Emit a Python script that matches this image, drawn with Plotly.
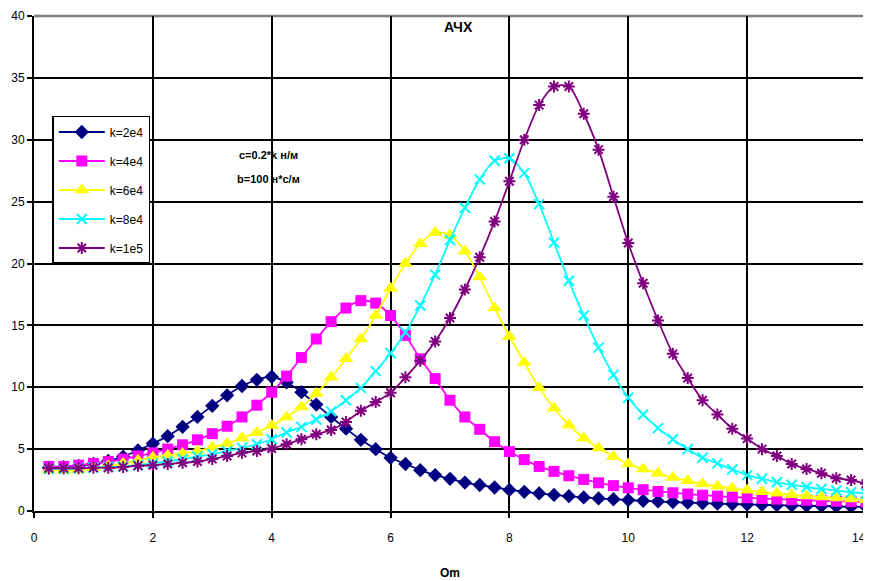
import plotly.graph_objects as go

om = [0.25, 0.5, 0.75, 1.0, 1.25, 1.5, 1.75, 2.0, 2.25, 2.5, 2.75, 3.0, 3.25, 3.5, 3.75, 4.0,
      4.25, 4.5, 4.75, 5.0, 5.25, 5.5, 5.75, 6.0, 6.25, 6.5, 6.75, 7.0, 7.25, 7.5, 7.75, 8.0,
      8.25, 8.5, 8.75, 9.0, 9.25, 9.5, 9.75, 10.0, 10.25, 10.5, 10.75, 11.0, 11.25, 11.5, 11.75, 12.0,
      12.25, 12.5, 12.75, 13.0, 13.25, 13.5, 13.75, 14.0]

k2e4 = [3.5, 3.55, 3.65, 3.8, 4.05, 4.4, 4.9, 5.45, 6.05, 6.8, 7.6, 8.5, 9.35, 10.1, 10.6, 10.85,
        10.4, 9.6, 8.6, 7.6, 6.65, 5.75, 5.0, 4.3, 3.8, 3.3, 2.9, 2.6, 2.3, 2.1, 1.9, 1.7,
        1.55, 1.42, 1.3, 1.2, 1.1, 1.02, 0.95, 0.88, 0.82, 0.77, 0.72, 0.67, 0.63, 0.59, 0.56, 0.53,
        0.5, 0.47, 0.44, 0.42, 0.4, 0.37, 0.35, 0.33]

k4e4 = [3.6, 3.6, 3.7, 3.85, 4.0, 4.2, 4.45, 4.7, 5.0, 5.35, 5.75, 6.25, 6.85, 7.6, 8.55, 9.6,
        10.9, 12.4, 13.9, 15.3, 16.4, 17.0, 16.8, 15.8, 14.2, 12.3, 10.7, 8.95, 7.6, 6.6, 5.6, 4.8,
        4.15, 3.6, 3.2, 2.85, 2.55, 2.28, 2.05, 1.87, 1.72, 1.58, 1.47, 1.37, 1.28, 1.2, 1.13, 1.07,
        1.01, 0.96, 0.91, 0.87, 0.83, 0.79, 0.76, 0.72]

k6e4 = [3.3, 3.3, 3.35, 3.5, 3.65, 3.85, 4.1, 4.35, 4.5, 4.65, 4.85, 5.15, 5.45, 5.9, 6.35, 6.9,
        7.6, 8.4, 9.5, 10.8, 12.3, 13.9, 15.8, 18.0, 20.0, 21.6, 22.5, 22.3, 21.0, 18.9, 16.4, 14.1,
        12.0, 9.95, 8.3, 6.95, 5.9, 5.1, 4.4, 3.8, 3.4, 3.05, 2.7, 2.45, 2.2, 2.0, 1.83, 1.68,
        1.55, 1.43, 1.32, 1.22, 1.13, 1.05, 0.97, 0.9]

k8e4 = [3.4, 3.4, 3.45, 3.5, 3.55, 3.6, 3.7, 3.85, 4.0, 4.2, 4.4, 4.6, 4.85, 5.1, 5.4, 5.8,
        6.35, 6.8, 7.4, 8.05, 8.95, 9.95, 11.3, 12.75, 14.45, 16.6, 19.1, 21.9, 24.5, 26.8, 28.3, 28.5,
        27.3, 24.8, 21.7, 18.6, 15.8, 13.2, 11.0, 9.15, 7.8, 6.7, 5.8, 5.0, 4.3, 3.85, 3.35, 2.9,
        2.6, 2.32, 2.12, 1.94, 1.78, 1.65, 1.52, 1.42]

k1e5 = [3.45, 3.45, 3.45, 3.5, 3.5, 3.55, 3.65, 3.7, 3.8, 3.9, 4.0, 4.2, 4.45, 4.7, 4.85, 5.05,
        5.4, 5.8, 6.2, 6.55, 7.2, 8.1, 8.8, 9.55, 10.8, 12.15, 13.7, 15.6, 17.9, 20.5, 23.4, 26.65,
        30.0, 32.8, 34.3, 34.3, 32.1, 29.2, 25.4, 21.65, 18.4, 15.4, 12.7, 10.75, 8.95, 7.8, 6.65, 5.85,
        5.0, 4.45, 3.8, 3.4, 3.05, 2.65, 2.5, 2.2]

names = ["k=2e4", "k=4e4", "k=6e4", "k=8e4", "k=1e5"]
x_ticks = [0, 2, 4, 6, 8, 10, 12, 14]
x_labels = ["0", "2", "4", "6", "8", "10", "12", ""]
last_x_label = "14"
y_ticks = [0, 5, 10, 15, 20, 25, 30, 35, 40]

series = [k2e4, k4e4, k6e4, k8e4, k1e5]
colors = ["#000080", "#FF00FF", "#FFFF00", "#00FFFF", "#800080"]
symbols = ["diamond", "square", "triangle-up", "x-thin-open", "asterisk-open"]
sizes = [11, 11, 13, 10, 10]

FONT = "Liberation Sans, Arial, sans-serif"

fig = go.Figure()
for i, (name, ys) in enumerate(zip(names, series)):
    mk = dict(symbol=symbols[i], size=sizes[i], color=colors[i])
    if "open" in symbols[i]:
        mk["line"] = dict(color=colors[i], width=2)
    else:
        mk["line"] = dict(width=0)
    fig.add_trace(go.Scatter(
        x=om, y=ys, name=name, mode="lines+markers",
        line=dict(color=colors[i], width=1.8, shape="spline", smoothing=0.8),
        marker=mk, legendgroup=name,
    ))

# The page body adds an 8px offset, so the figure is drawn 8px smaller
fig.update_layout(
    width=863, height=573,
    margin=dict(l=26, r=5, t=8, b=70),
    paper_bgcolor="white", plot_bgcolor="white",
    font=dict(family=FONT, size=11, color="black"),
    showlegend=True,
    legend=dict(
        x=0.022, y=0.798, xanchor="left", yanchor="top",
        bgcolor="white", bordercolor="black", borderwidth=1.5,
        font=dict(family=FONT, size=12, color="black"),
        tracegroupgap=10, itemwidth=46,
    ),
    xaxis=dict(
        range=[0, 14], tickvals=x_ticks, ticktext=x_labels,
        showgrid=True, gridcolor="black", gridwidth=2,
        showline=True, linecolor="black", linewidth=2,
        ticks="outside", ticklen=5, tickcolor="black", tickwidth=1.5,
        ticklabelstandoff=10, zeroline=False, automargin=False,
        ticklabeloverflow="allow",
        tickfont=dict(family=FONT, size=12),
    ),
    yaxis=dict(
        range=[0, 40], tickvals=y_ticks, ticktext=[str(v) for v in y_ticks],
        showgrid=True, gridcolor="black", gridwidth=2,
        showline=True, linecolor="black", linewidth=2,
        ticks="outside", ticklen=5, tickcolor="black", tickwidth=1.5,
        zeroline=False, automargin=False, ticklabeloverflow="allow",
        tickfont=dict(family=FONT, size=12),
    ),
    shapes=[
        dict(type="line", xref="paper", yref="paper", x0=0, x1=1, y0=1, y1=1,
             line=dict(color="#808080", width=2.5), layer="between"),
        dict(type="line", xref="paper", yref="paper", x0=1, x1=1, y0=0, y1=1,
             line=dict(color="#808080", width=2.5), layer="between"),
    ],
    annotations=[
        dict(text="<b>АЧХ</b>", xref="paper", yref="paper", x=0.51, y=0.978,
             xanchor="center", yanchor="middle",
             showarrow=False, font=dict(family=FONT, size=14)),
        dict(text="<b>c=0.2*k н/м</b>", xref="paper", yref="paper", x=0.2817, y=0.719,
             xanchor="center", yanchor="middle",
             showarrow=False, font=dict(family=FONT, size=11)),
        dict(text="<b>b=100 н*с/м</b>", xref="paper", yref="paper", x=0.2817, y=0.671,
             xanchor="center", yanchor="middle",
             showarrow=False, font=dict(family=FONT, size=11)),
        dict(text="<b>Om</b>", xref="paper", yref="paper", x=0.5, y=-0.125,
             xanchor="center", yanchor="middle",
             showarrow=False, font=dict(family=FONT, size=12)),
        dict(text=last_x_label, xref="x", yref="paper", x=x_ticks[-1], y=-0.0545,
             xanchor="right", yanchor="middle", xshift=2,
             showarrow=False, font=dict(family=FONT, size=12)),
    ],
)

fig.write_html("out.html")
